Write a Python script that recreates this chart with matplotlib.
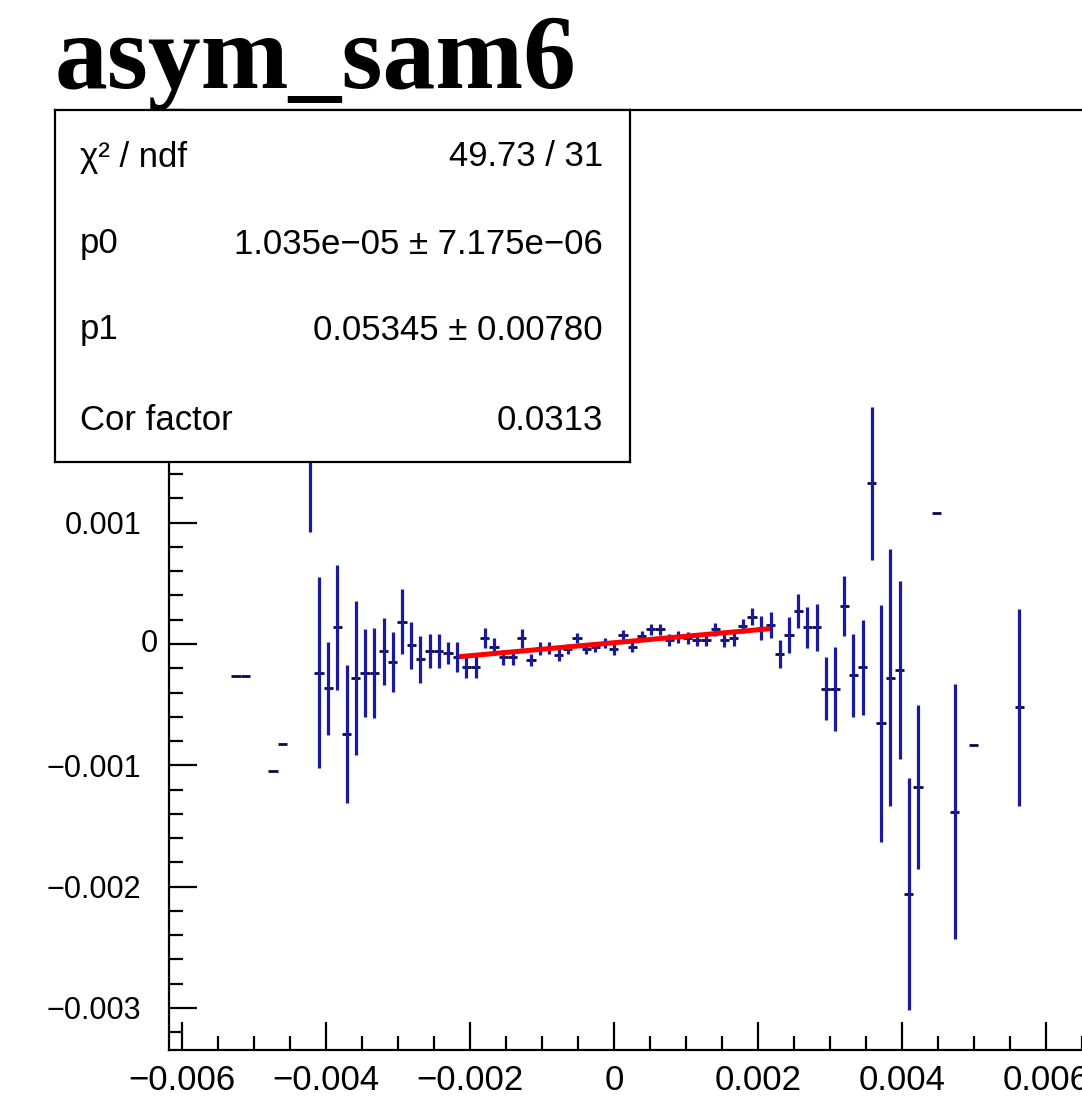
import numpy as np
import matplotlib
matplotlib.use('Agg')
import matplotlib.pyplot as plt
import matplotlib.transforms as mtransforms
from matplotlib.ticker import MultipleLocator, FuncFormatter

# ---- data (values and errors in units of 1e-4) ----
bin_width = 0.000128
bin_index = [-41, -40, -37, -36, -33, -32, -31, -30, -29, -28, -27, -26, -25, -24,
             -23, -22, -21, -20, -19, -18, -17, -16, -15, -14, -13, -12, -11, -10,
             -9, -8, -7, -6, -5, -4, -3, -2, -1, 0, 1, 2, 3, 4, 5, 6, 7, 8, 9, 10,
             11, 12, 13, 14, 15, 16, 17, 18, 19, 20, 21, 22, 23, 24, 25, 26, 27,
             28, 29, 30, 31, 32, 33, 35, 37, 39, 44]
asym = [-2.61, -2.61, -10.49, -8.27, 17.5, -2.37, -3.65, 1.38, -7.44, -2.80, -2.37,
        -2.37, -0.60, -1.48, 1.84, -0.12, -1.26, -0.58, -0.58, -0.77, -1.05, -1.92,
        -1.92, 0.47, -0.22, -1.10, -1.10, 0.47, -1.32, -0.35, -0.35, -0.91, -0.44,
        0.52, -0.44, -0.27, 0.06, -0.44, 0.74, -0.22, 0.66, 1.21, 1.21, 0.33, 0.60,
        0.47, 0.33, 0.33, 1.21, 0.33, 0.47, 1.48, 2.25, 1.29, 1.57, -0.82, 0.74,
        2.72, 1.38, 1.38, -3.69, -3.69, 3.13, -2.58, -1.92, 13.25, -6.54, -2.78,
        -2.14, -20.61, -11.81, 10.82, -13.82, -8.33, -5.22]
asym_err = [0, 0, 0, 0, 8.3, 7.89, 3.85, 5.14, 5.67, 6.35, 3.61, 3.72, 2.74, 2.50,
            2.70, 1.93, 1.92, 1.38, 1.38, 0.92, 1.24, 0.91, 0.91, 0.82, 0.68, 0.62,
            0.62, 0.76, 0.52, 0.55, 0.50, 0.48, 0.40, 0.40, 0.40, 0.40, 0.40, 0.45,
            0.45, 0.45, 0.45, 0.45, 0.45, 0.50, 0.50, 0.50, 0.50, 0.50, 0.55, 0.55,
            0.60, 0.60, 0.70, 0.99, 1.10, 1.17, 1.51, 1.37, 1.69, 1.92, 2.61, 3.46,
            2.47, 3.44, 3.90, 6.32, 9.79, 10.58, 7.31, 9.55, 6.77, 0, 10.51, 0, 8.10]

# fit result
p0 = 1.035e-05
p1 = 0.05345
fit_range = (-0.00215, 0.00217)

stat_names = ['χ² / ndf', 'p0', 'p1', 'Cor factor']
stat_values = ['49.73 / 31', '1.035e−05 ± 7.175e−06', '0.05345 ± 0.00780', '0.0313']

W, H = 1082, 1119
fig = plt.figure(figsize=(W / 100, H / 100), dpi=100)

# axes frame: left edge 169px, top 110px, bottom 1050px, right edge outside the canvas
x_lo, x_hi = -0.00618, 0.0066
y_lo, y_hi = -0.003347, 0.004402
ax = fig.add_axes([169 / W, 1 - 1050 / H, (1089 - 169) / W, (1050 - 110) / H])
ax.set_xlim(x_lo, x_hi)
ax.set_ylim(y_lo, y_hi)

x = np.array(bin_index) * bin_width
y = np.array(asym) * 1e-4
ey = np.array(asym_err) * 1e-4

# horizontal bars (bin width) and vertical error bars
ax.errorbar(x, y, xerr=bin_width / 2, fmt='none', ecolor='#08084a', elinewidth=2.0,
            capsize=0, zorder=3)
has_err = ey > 0
ax.errorbar(x[has_err], y[has_err], yerr=ey[has_err], fmt='none', ecolor='#1a1aa0',
            elinewidth=2.3, capsize=0, zorder=3)

# fit line
fx = np.array(fit_range)
ax.plot(fx, p0 + p1 * fx, color='#ff0000', lw=3.6, solid_capstyle='butt', zorder=4)

# ROOT-like axes
for side in ['left', 'bottom', 'top']:
    ax.spines[side].set_linewidth(1.6)
ax.spines['right'].set_visible(False)
ax.xaxis.set_major_locator(MultipleLocator(0.002))
ax.xaxis.set_minor_locator(MultipleLocator(0.0005))
ax.yaxis.set_major_locator(MultipleLocator(0.001))
ax.yaxis.set_minor_locator(MultipleLocator(0.0002))
ax.tick_params(which='both', direction='in', top=False, right=False, width=1.6,
               colors='black')
ax.tick_params(which='major', length=20)
ax.tick_params(which='minor', length=10)
ax.tick_params(axis='x', which='major', pad=10)
ax.tick_params(axis='y', which='major', pad=20)


def fmt(v, pos):
    if abs(v) < 1e-12:
        return '0'
    return f'{v:g}'.replace('-', '\u2212')


def fmt_y(v, pos):
    # labels above 0.0015 sit behind the stats box; "0" is placed by hand below
    if v > 0.0015 or abs(v) < 1e-12:
        return ''
    return fmt(v, pos)


ax.xaxis.set_major_formatter(FuncFormatter(fmt))
ax.yaxis.set_major_formatter(FuncFormatter(fmt_y))
for lab in ax.get_xticklabels():
    lab.set_family('Liberation Sans')
    lab.set_fontsize(25)
for lab in ax.get_yticklabels():
    lab.set_family('Liberation Sans')
    lab.set_fontsize(22)

# the zero label sits a bit closer to the axis, as in the ROOT canvas
trans = mtransforms.blended_transform_factory(ax.transAxes, ax.transData)
ax.text(-11 / 920, 0, '0', transform=trans, ha='right', va='center',
        fontsize=22, family='Liberation Sans')

# title
fig.text(55 / W, 1 - 88 / H, 'asym_sam6', family='Liberation Serif', weight='bold',
         fontsize=76, ha='left', va='baseline')

# stats box
box = fig.add_axes([55 / W, 1 - 462 / H, (630 - 55) / W, (462 - 110) / H])
box.set_zorder(10)
box.set_facecolor('white')
box.set_xticks([])
box.set_yticks([])
for s in box.spines.values():
    s.set_linewidth(1.6)
row_y = [157, 244, 330, 420]
for name, val, ry in zip(stat_names, stat_values, row_y):
    yy = 1 - (ry - 110) / (462 - 110)
    box.text((80 - 55) / 575, yy, name, transform=box.transAxes, ha='left',
             va='center', fontsize=25, family='Liberation Sans')
    box.text((603 - 55) / 575, yy, val, transform=box.transAxes, ha='right',
             va='center', fontsize=25, family='Liberation Sans')

fig.savefig('out.png', dpi=100)
